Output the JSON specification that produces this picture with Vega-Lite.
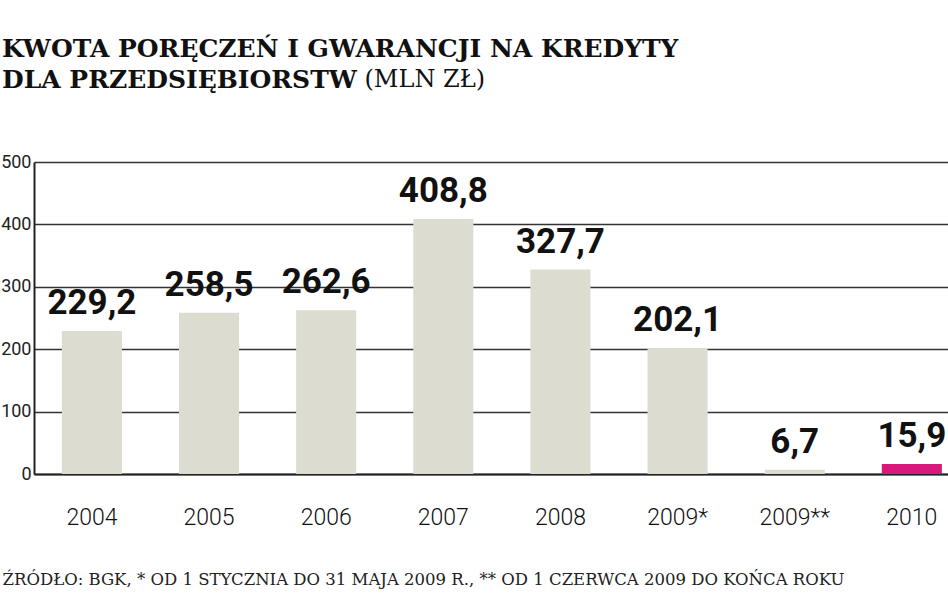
{
  "$schema": "https://vega.github.io/schema/vega-lite/v6.json",
  "width": 914,
  "height": 312,
  "autosize": {"type": "none"},
  "padding": {"left": 34, "top": 162, "right": 0, "bottom": 119},
  "background": "white",
  "title": {
    "text": ["KWOTA PORĘCZEŃ I GWARANCJI NA KREDYTY", "DLA PRZEDSIĘBIORSTW"],
    "anchor": "start",
    "frame": "group",
    "font": "DejaVu Serif",
    "fontSize": 25,
    "fontWeight": "bold",
    "color": "#111111",
    "lineHeight": 31,
    "dx": -32,
    "dy": 46,
    "offset": 20
  },
  "data": {
    "values": [
      {"rok": "2004", "wartosc": 229.2},
      {"rok": "2005", "wartosc": 258.5},
      {"rok": "2006", "wartosc": 262.6},
      {"rok": "2007", "wartosc": 408.8},
      {"rok": "2008", "wartosc": 327.7},
      {"rok": "2009*", "wartosc": 202.1},
      {"rok": "2009**", "wartosc": 6.7},
      {"rok": "2010", "wartosc": 15.9}
    ]
  },
  "encoding": {
    "x": {
      "field": "rok",
      "type": "nominal",
      "sort": null,
      "scale": {"paddingInner": 0.487, "paddingOuter": 0.145, "align": 0.82},
      "axis": {
        "labelAngle": 0,
        "labelFont": "Roboto, sans-serif",
        "labelFontSize": 23,
        "labelFontWeight": 300,
        "labelColor": "#111111",
        "labelPadding": 32,
        "ticks": false,
        "domainColor": "#222222",
        "domainWidth": 2,
        "title": "ŹRÓDŁO: BGK, * OD 1 STYCZNIA DO 31 MAJA 2009 R., ** OD 1 CZERWCA 2009 DO KOŃCA ROKU",
        "titleFont": "DejaVu Serif",
        "titleFontSize": 16.5,
        "titleFontWeight": "normal",
        "titleColor": "#222222",
        "titleAnchor": "start",
        "titleAlign": "left",
        "titleBaseline": "alphabetic",
        "titleX": -32,
        "titleY": 110
      }
    }
  },
  "layer": [
    {
      "mark": {"type": "bar"},
      "encoding": {
        "y": {
          "field": "wartosc",
          "type": "quantitative",
          "scale": {"domain": [0, 500], "nice": false},
          "axis": {
            "values": [0, 100, 200, 300, 400, 500],
            "format": "d",
            "labelFont": "Roboto, sans-serif",
            "labelFontSize": 18,
            "labelFontWeight": "normal",
            "labelColor": "#222222",
            "labelPadding": 3,
            "ticks": false,
            "domainColor": "#222222",
            "domainWidth": 2,
            "gridColor": "#333333",
            "gridWidth": 1.5,
            "gridOpacity": 1,
            "title": "(MLN ZŁ)",
            "titleFont": "DejaVu Serif",
            "titleFontSize": 24,
            "titleFontWeight": "normal",
            "titleColor": "#111111",
            "titleAngle": 0,
            "titleAlign": "left",
            "titleBaseline": "alphabetic",
            "titleX": 330,
            "titleY": -76
          }
        },
        "color": {
          "condition": {"test": "datum.rok === '2010'", "value": "#d6197a"},
          "value": "#dddcd1"
        }
      }
    },
    {
      "mark": {
        "type": "text",
        "baseline": "alphabetic",
        "dy": -17,
        "fontSize": 35,
        "fontWeight": "bold",
        "font": "Roboto, sans-serif",
        "color": "#111111"
      },
      "encoding": {
        "y": {"field": "wartosc", "type": "quantitative"},
        "text": {"field": "wartosc", "type": "quantitative", "format": ".1f"}
      }
    }
  ],
  "config": {
    "locale": {
      "number": {"decimal": ",", "thousands": " ", "grouping": [3], "currency": ["", " zł"]}
    },
    "view": {"stroke": null}
  }
}
